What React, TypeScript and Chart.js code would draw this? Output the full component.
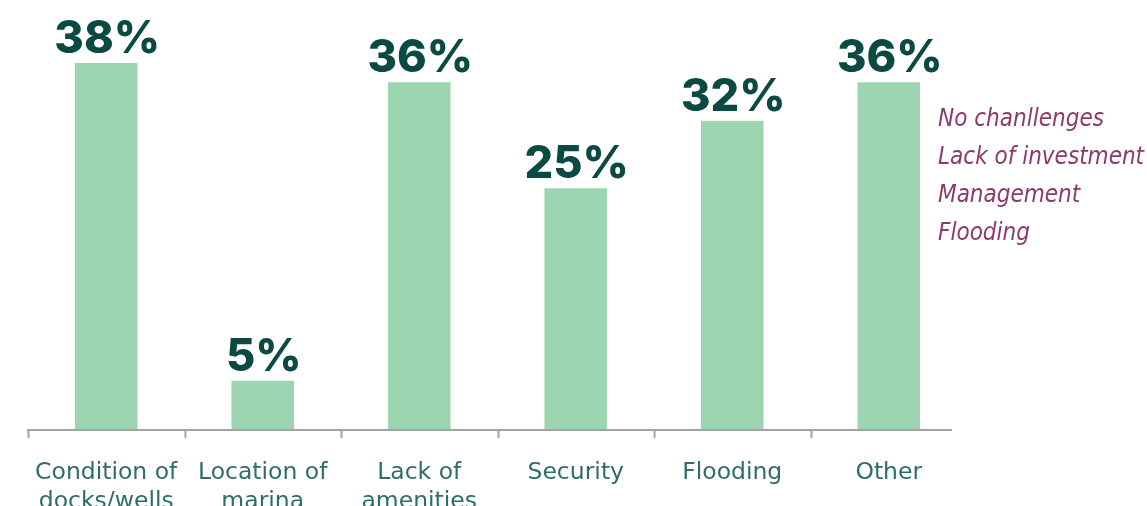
import React, { useEffect, useRef } from "react";
import { Chart, registerables } from "chart.js";

Chart.register(...registerables);

const categories: string[][] = [
  ["Condition of", "docks/wells"],
  ["Location of", "marina"],
  ["Lack of", "amenities"],
  ["Security"],
  ["Flooding"],
  ["Other"],
];
const values: number[] = [38, 5, 36, 25, 32, 36];
const notes: string[] = ["No chanllenges", "Lack of investment", "Management", "Flooding"];

const BAR = "#9ed5b1";
const LABEL = "#0b4a42";
const AXIS_TEXT = "#2f6d68";
const AXIS_LINE = "#a3a3a3";
const NOTE = "#8a3a6c";

const overlayPlugin = {
  id: "overlay",
  afterDatasetsDraw(chart: any) {
    const ctx = chart.ctx as CanvasRenderingContext2D;
    const x = chart.scales.x;
    const area = chart.chartArea;
    const meta = chart.getDatasetMeta(0);
    ctx.save();
    // value labels
    ctx.fillStyle = LABEL;
    ctx.font = "800 45px Inter";
    ctx.textAlign = "center";
    ctx.textBaseline = "alphabetic";
    meta.data.forEach((el: any, i: number) => {
      ctx.fillText(values[i] + "%", el.x + 1, el.y - 10);
    });
    // axis line
    const y0 = area.bottom;
    ctx.strokeStyle = AXIS_LINE;
    ctx.lineWidth = 2;
    ctx.beginPath();
    ctx.moveTo(area.left - 1, y0 + 1);
    ctx.lineTo(area.right - 15, y0 + 1);
    ctx.stroke();
    const step = (area.right - area.left) / categories.length;
    for (let i = 0; i < categories.length; i++) {
      const tx = Math.round(area.left + i * step) + 0.5;
      ctx.beginPath();
      ctx.moveTo(tx, y0);
      ctx.lineTo(tx, y0 + 9);
      ctx.stroke();
    }
    // category labels
    ctx.fillStyle = AXIS_TEXT;
    ctx.font = "400 23.5px 'DejaVu Sans'";
    categories.forEach((lines, i) => {
      const cx = x.getPixelForValue(i);
      lines.forEach((t, j) => {
        ctx.fillText(t, cx, 479 + j * 29);
      });
    });
    ctx.restore();
  },
};

export default function App() {
  const ref = useRef<HTMLCanvasElement>(null);
  useEffect(() => {
    if (!ref.current) return;
    const chart = new Chart(ref.current, {
      type: "bar",
      data: {
        labels: categories.map((c) => c.join(" ")),
        datasets: [
          {
            data: values,
            backgroundColor: BAR,
            barPercentage: 0.4,
            categoryPercentage: 1,
          },
        ],
      },
      options: {
        responsive: false,
        animation: false,
        devicePixelRatio: 1,
        layout: { padding: { left: 28, right: 180, top: 0, bottom: 77 } },
        plugins: { legend: { display: false }, tooltip: { enabled: false } },
        scales: {
          x: { display: false },
          y: { display: false, min: 0, max: 44.55 },
        },
      },
      plugins: [overlayPlugin],
    });
    return () => chart.destroy();
  }, []);
  return (
    <div style={{ position: "fixed", left: 0, top: 0, width: 1147, height: 506, background: "#fff" }}>
      <canvas ref={ref} width={1147} height={506} style={{ position: "absolute", left: 0, top: 0 }} />
      <div style={{ position: "absolute", left: 938, top: 99 }}>
        {notes.map((n, i) => (
          <div
            key={i}
            style={{
              color: NOTE,
              fontFamily: "'DejaVu Sans Condensed', 'DejaVu Sans'",
              fontStyle: "italic",
              fontWeight: 300,
              fontSize: 24,
              lineHeight: "38px",
              whiteSpace: "nowrap",
              letterSpacing: 0,
            }}
          >
            {n}
          </div>
        ))}
      </div>
    </div>
  );
}
